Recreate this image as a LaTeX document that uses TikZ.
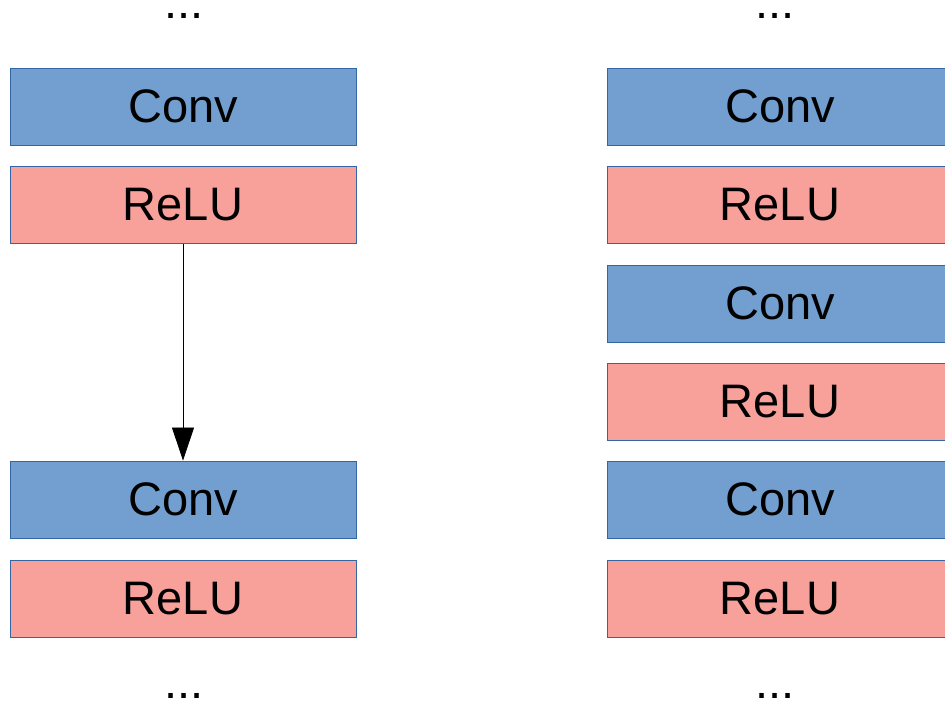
\documentclass[tikz,border=0pt]{standalone}
\usepackage{fontspec}
\setmainfont{Liberation Sans}
\usetikzlibrary{arrows.meta}
\definecolor{convfill}{HTML}{729FCF}
\definecolor{relufill}{HTML}{F7A19A}
\definecolor{boxline}{HTML}{3465A4}
\tikzset{
  layer/.style={rectangle, draw=boxline, line width=0.9pt, minimum width=346pt,
    minimum height=77pt, inner sep=0pt, font=\fontsize{47}{50}\selectfont},
  convbox/.style={layer, fill=convfill},
  relubox/.style={layer, fill=relufill},
  more/.style={anchor=base, inner sep=0pt, text height=6pt, text depth=0pt,
    font=\fontsize{47}{50}\selectfont},
  flow/.style={draw=black, line width=0.8pt, -{Triangle[length=33pt, width=22pt]}}
}
\begin{document}
\begin{tikzpicture}[x=1pt, y=-1pt]
  \useasboundingbox (0,0) rectangle (945,702);
  \clip (0,0) rectangle (945,702);
  \fill[white] (0,0) rectangle (945,702);

  % left column: two conv/relu pairs joined by an arrow
  \node[more] (ltop) at (184,18) {...};
  \node[convbox] (lc1) at (183,106.5) {Conv};
  \node[relubox] (lr1) at (183,205) {ReLU};
  \node[convbox] (lc2) at (183,499.5) {Conv};
  \node[relubox] (lr2) at (183,598.5) {ReLU};
  \node[more] (lbot) at (184,698) {...};
  \draw[flow] (lr1.south) -- (lc2.north);

  % right column: stacked conv/relu pairs
  \node[more] (rtop) at (775,18) {...};
  \node[convbox] (rc1) at (780,106.5) {Conv};
  \node[relubox] (rr1) at (780,205) {ReLU};
  \node[convbox] (rc2) at (780,303.5) {Conv};
  \node[relubox] (rr2) at (780,401.5) {ReLU};
  \node[convbox] (rc3) at (780,499.5) {Conv};
  \node[relubox] (rr3) at (780,598.5) {ReLU};
  \node[more] (rbot) at (775,698) {...};
\end{tikzpicture}
\end{document}
